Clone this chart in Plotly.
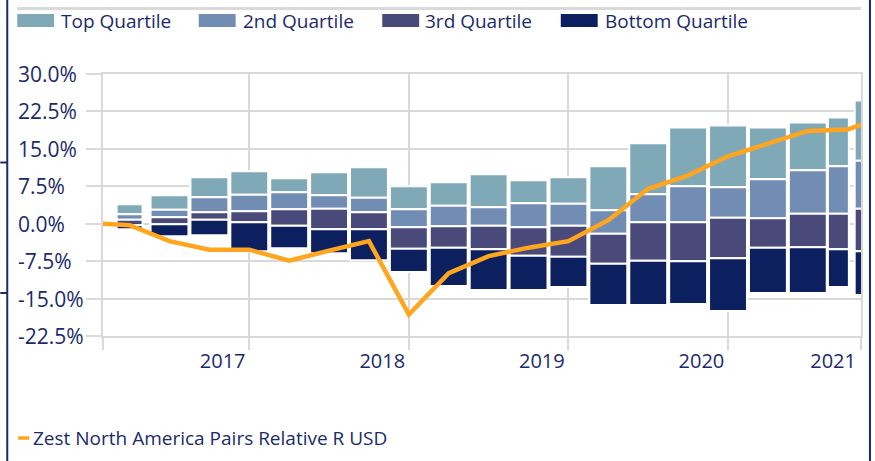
import plotly.graph_objects as go

# ---------------- data ----------------
# x positions are months from the start of the series
bar_month = [2, 5, 8, 11, 14, 17, 20, 23, 26, 29, 32, 35, 38, 41, 44, 47, 50, 53, 55.3, 57.0]
q_max = [3.9, 5.7, 9.3, 10.5, 9.1, 10.3, 11.3, 7.5, 8.3, 9.9, 8.7, 9.3, 11.5, 16.1, 19.3, 19.7, 19.3, 20.3, 21.3, 24.7]
q_75 = [1.9, 2.8, 5.3, 5.8, 6.3, 5.7, 5.2, 2.9, 3.6, 3.3, 4.1, 4.0, 2.7, 5.9, 7.5, 7.3, 8.9, 10.7, 11.5, 12.6]
q_50 = [0.8, 1.3, 2.3, 2.5, 2.9, 3.0, 2.3, -0.7, -0.5, -0.4, -0.7, -0.4, -2.0, 0.3, 0.3, 1.2, 1.1, 2.0, 2.0, 3.0]
q_25 = [-0.3, -0.1, 0.8, 0.3, -0.4, -1.1, -1.1, -5.0, -4.8, -5.1, -6.4, -6.6, -8.0, -7.4, -7.5, -6.9, -4.8, -4.7, -5.1, -5.5]
q_min = [-1.1, -2.5, -2.3, -5.5, -4.9, -5.9, -7.3, -9.7, -12.5, -13.3, -13.3, -12.7, -16.3, -16.3, -16.1, -17.5, -13.9, -13.9, -12.7, -14.3]

fund_month = [0, 2, 5, 8, 11, 14, 17, 20, 23, 26, 29, 32, 35, 38, 41, 44, 47, 50, 53, 56, 57]
fund_rel = [0.0, -0.3, -3.5, -5.2, -5.2, -7.4, -5.4, -3.5, -18.2, -9.9, -6.5, -4.8, -3.5, 0.7, 7.0, 9.7, 13.5, 16.0, 18.6, 18.9, 19.8]

year_labels = ["2017", "2018", "2019", "2020", "2021"]
year_label_month = [9, 21, 33, 45, 54.9]
year_grid_month = [0, 11, 23, 35, 47, 57]
y_ticks = [-22.5, -15.0, -7.5, 0.0, 7.5, 15.0, 22.5, 30.0]

series_names = ["Top Quartile", "2nd Quartile", "3rd Quartile", "Bottom Quartile"]
line_name = "Zest North America Pairs Relative R USD"

# ---------------- style ----------------
bar_width = [1.95] + [2.85] * 17 + [1.575, 0.95]
colors = ["#80A9B8", "#728DB4", "#4A4A7A", "#0C1F5E"]
orange = "#FFA51E"
navy = "#1B2A6B"
grid = "#D9D9D9"
FONT = "Open Sans"
FS_Y = 21
FS_X = 20
FS_LEG = 19

W, H = 875, 461
L, R, T, B = 103, 12, 74, 125
PW, PH = W - L - R, H - T - B


def px_x(p):
    return (p - L) / PW


def px_y(p):
    return (H - B - p) / PH


fig = go.Figure()

segments = [
    (q_75, q_max, colors[0], series_names[0]),
    (q_50, q_75, colors[1], series_names[1]),
    (q_25, q_50, colors[2], series_names[2]),
    (q_min, q_25, colors[3], series_names[3]),
]
for lo, hi, col, name in segments:
    fig.add_trace(go.Bar(
        x=bar_month,
        y=[h - l for l, h in zip(lo, hi)],
        base=lo,
        width=bar_width,
        name=name,
        marker=dict(color=col, line=dict(color="white", width=2)),
        showlegend=False,
    ))

fig.add_trace(go.Scatter(
    x=fund_month, y=fund_rel, mode="lines", name=line_name,
    line=dict(color=orange, width=4.5), showlegend=False,
))

fig.update_layout(
    width=W, height=H, autosize=False,
    margin=dict(l=L, r=R, t=T, b=B),
    paper_bgcolor="white", plot_bgcolor="white",
    barmode="overlay",
    font=dict(family=FONT, size=FS_LEG, color=navy),
    xaxis=dict(
        range=[0, 57], showgrid=False, zeroline=False,
        showline=True, mirror=True, linecolor=grid, linewidth=2,
        tickmode="array", tickvals=year_label_month, ticktext=year_labels,
        ticks="outside", ticklen=6, tickcolor="rgba(0,0,0,0)",
        tickfont=dict(family=FONT, size=FS_X, color=navy),
        minor=dict(tickmode="array", tickvals=year_grid_month, showgrid=True,
                   gridcolor=grid, gridwidth=2, ticks="outside", ticklen=12,
                   tickcolor=grid, tickwidth=2),
    ),
    yaxis=dict(
        range=[-22.5, 30], tickmode="array", tickvals=y_ticks,
        showticklabels=False, showgrid=True, gridcolor=grid, gridwidth=2,
        zeroline=False, showline=True, mirror=True, linecolor=grid, linewidth=2,
        ticks="outside", ticklen=15, tickcolor=grid, tickwidth=2,
    ),
)

# y tick labels (left aligned, as in the original)
for v in y_ticks:
    fig.add_annotation(x=px_x(16), y=v, xref="paper", yref="y",
                       text=f"{v:.1f}%", showarrow=False, xanchor="left",
                       yanchor="middle", font=dict(family=FONT, size=FS_Y, color=navy))

# top legend
sw_x = [17, 199, 383, 562]
txt_x = [59, 241, 424, 604]
for i, name in enumerate(series_names):
    fig.add_shape(type="rect", xref="paper", yref="paper",
                  x0=px_x(sw_x[i]), x1=px_x(sw_x[i] + 37),
                  y0=px_y(27), y1=px_y(14), fillcolor=colors[i], line=dict(width=0))
    fig.add_annotation(x=px_x(txt_x[i]), y=px_y(21), xref="paper", yref="paper",
                       text=name, showarrow=False, xanchor="left", yanchor="middle",
                       font=dict(family=FONT, size=FS_LEG, color=navy))

# bottom legend
fig.add_shape(type="line", xref="paper", yref="paper",
              x0=px_x(18), x1=px_x(29), y0=px_y(438), y1=px_y(438),
              line=dict(color=orange, width=3.5))
fig.add_annotation(x=px_x(31), y=px_y(438), xref="paper", yref="paper",
                   text=line_name, showarrow=False, xanchor="left", yanchor="middle",
                   font=dict(family=FONT, size=FS_LEG, color=navy))

# frame decorations
fig.add_shape(type="line", xref="paper", yref="paper",
              x0=px_x(17), x1=px_x(863), y0=px_y(8.5), y1=px_y(8.5),
              line=dict(color=grid, width=3))
fig.add_shape(type="line", xref="paper", yref="paper",
              x0=px_x(7), x1=px_x(7), y0=px_y(0), y1=px_y(461),
              line=dict(color=navy, width=2))
for yy in (162.5, 293):
    fig.add_shape(type="line", xref="paper", yref="paper",
                  x0=px_x(0), x1=px_x(7), y0=px_y(yy), y1=px_y(yy),
                  line=dict(color=navy, width=2))
fig.add_shape(type="line", xref="paper", yref="paper",
              x0=px_x(872), x1=px_x(872), y0=px_y(0), y1=px_y(461),
              line=dict(color=navy, width=2))

fig.write_html(
    "out.html",
    config={"displayModeBar": False, "staticPlot": True},
    post_script="document.body.style.margin='0px';document.body.style.overflow='hidden';",
)
